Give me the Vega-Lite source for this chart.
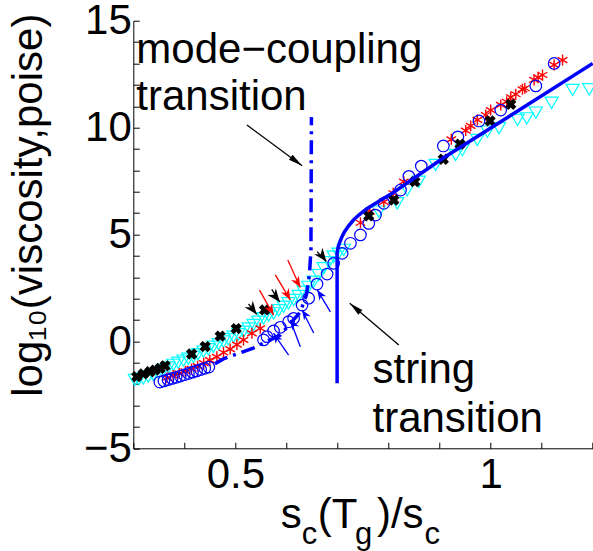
{
  "$schema": "https://vega.github.io/schema/vega-lite/v6.json",
  "width": 459.4,
  "height": 427.6,
  "autosize": "none",
  "padding": {"left": 133.3, "top": 20.7, "right": 0, "bottom": 102.7},
  "config": {"view": {"stroke": null}, "font": "Liberation Sans"},
  "datasets": {
    "cyan": [
      {"x":0.303,"y":-1.80},{"x":0.311,"y":-1.77},{"x":0.3196,"y":-1.73},{"x":0.329,"y":-1.65},{"x":0.3393,"y":-1.57},
      {"x":0.349,"y":-1.46},{"x":0.3589,"y":-1.34},{"x":0.369,"y":-1.22},{"x":0.3785,"y":-1.10},{"x":0.388,"y":-1.0},
      {"x":0.3982,"y":-0.90},{"x":0.408,"y":-0.81},{"x":0.4178,"y":-0.72},{"x":0.427,"y":-0.60},{"x":0.4374,"y":-0.48},
      {"x":0.447,"y":-0.37},{"x":0.457,"y":-0.25},{"x":0.467,"y":-0.13},{"x":0.4767,"y":-0.01},{"x":0.486,"y":0.10},
      {"x":0.4963,"y":0.22},{"x":0.506,"y":0.33},{"x":0.5159,"y":0.45},{"x":0.526,"y":0.60},{"x":0.5356,"y":0.77},
      {"x":0.545,"y":0.92},{"x":0.5552,"y":1.08},{"x":0.565,"y":1.20},{"x":0.5748,"y":1.31},{"x":0.585,"y":1.46},
      {"x":0.5945,"y":1.62},{"x":0.604,"y":1.78},{"x":0.6141,"y":1.94},{"x":0.624,"y":2.12},{"x":0.6337,"y":2.32},
      {"x":0.643,"y":2.55},{"x":0.6534,"y":2.79},{"x":0.663,"y":3.10},{"x":0.673,"y":3.42},{"x":0.683,"y":3.70},
      {"x":0.6926,"y":3.96},{"x":0.702,"y":4.10},{"x":0.7123,"y":4.28},
      {"x":0.781,"y":6.07},{"x":0.8171,"y":6.46},{"x":0.8367,"y":7.08},{"x":0.8595,"y":7.47},{"x":0.8923,"y":8.25},
      {"x":0.9315,"y":8.72},{"x":0.9447,"y":8.95},{"x":0.9741,"y":9.42},{"x":0.9938,"y":9.81},{"x":1.0165,"y":9.97},
      {"x":1.0527,"y":10.36},{"x":1.0709,"y":10.43},{"x":1.0886,"y":10.70},{"x":1.1194,"y":11.16},{"x":1.1606,"y":11.76},
      {"x":1.1932,"y":11.79}
    ],
    "red": [
      {"x":0.366,"y":-1.70},{"x":0.378,"y":-1.60},{"x":0.39,"y":-1.50},{"x":0.402,"y":-1.40},{"x":0.414,"y":-1.29},
      {"x":0.426,"y":-1.16},{"x":0.438,"y":-1.02},{"x":0.45,"y":-0.88},{"x":0.4637,"y":-0.72},{"x":0.4767,"y":-0.52},
      {"x":0.4898,"y":-0.36},{"x":0.503,"y":-0.15},{"x":0.5159,"y":0.07},{"x":0.5324,"y":0.38},{"x":0.5487,"y":0.61},
      {"x":0.745,"y":5.55},{"x":0.7633,"y":6.07},{"x":0.7908,"y":6.53},{"x":0.8092,"y":6.93},{"x":0.83,"y":7.47},
      {"x":0.923,"y":9.45},{"x":0.9512,"y":9.86},{"x":0.961,"y":10.08},{"x":0.9741,"y":10.36},{"x":0.9904,"y":10.59},
      {"x":1.0002,"y":10.82},{"x":1.0199,"y":11.06},{"x":1.0316,"y":11.21},{"x":1.0395,"y":11.42},{"x":1.0493,"y":11.56},
      {"x":1.0624,"y":11.79},{"x":1.067,"y":11.84},{"x":1.0852,"y":12.23},{"x":1.0931,"y":12.35},{"x":1.1017,"y":12.46},
      {"x":1.1245,"y":12.93},{"x":1.141,"y":13.16}
    ],
    "blue": [
      {"x":0.352,"y":-1.90},{"x":0.36,"y":-1.85},{"x":0.368,"y":-1.79},{"x":0.376,"y":-1.73},{"x":0.384,"y":-1.68},
      {"x":0.392,"y":-1.62},{"x":0.40,"y":-1.56},{"x":0.408,"y":-1.50},{"x":0.416,"y":-1.44},{"x":0.424,"y":-1.38},
      {"x":0.432,"y":-1.32},{"x":0.44,"y":-1.26},{"x":0.448,"y":-1.20},
      {"x":0.5552,"y":0.07},{"x":0.5619,"y":0.22},{"x":0.5748,"y":0.49},{"x":0.588,"y":0.66},{"x":0.6043,"y":0.92},
      {"x":0.6141,"y":1.08},{"x":0.6306,"y":1.70},{"x":0.6435,"y":2.02},{"x":0.66,"y":2.68},{"x":0.6797,"y":3.15},
      {"x":0.6926,"y":3.65},{"x":0.7091,"y":4.12},{"x":0.7254,"y":4.59},{"x":0.745,"y":4.98},{"x":0.7613,"y":5.52},
      {"x":0.7745,"y":5.91},{"x":0.7908,"y":6.46},{"x":0.8236,"y":7.08},{"x":0.8398,"y":7.72},{"x":0.8642,"y":8.20},
      {"x":0.9074,"y":9.14},{"x":0.936,"y":9.57},{"x":0.9773,"y":10.31},{"x":1.0199,"y":10.82},{"x":1.0886,"y":11.95},
      {"x":1.1245,"y":13.0}
    ],
    "black": [
      {"x":0.3067,"y":-1.65},{"x":0.3196,"y":-1.52},{"x":0.3328,"y":-1.42},{"x":0.3426,"y":-1.34},{"x":0.3524,"y":-1.26},
      {"x":0.3622,"y":-1.14},{"x":0.4143,"y":-0.59},{"x":0.4408,"y":-0.24},{"x":0.4702,"y":0.25},{"x":0.5016,"y":0.60},
      {"x":0.5572,"y":1.47},{"x":0.7613,"y":5.87},{"x":0.8104,"y":6.61},{"x":0.8516,"y":7.47},{"x":0.9074,"y":8.52},
      {"x":0.94,"y":9.23},{"x":0.9989,"y":10.31},{"x":1.0395,"y":11.09}
    ],
    "mct": [
      {"x":0.46,"y":-1.05},{"x":0.4765,"y":-0.82},{"x":0.535,"y":-0.31},{"x":0.588,"y":0.30},{"x":0.627,"y":1.37},
      {"x":0.639,"y":2.17},{"x":0.645,"y":3.10},{"x":0.648,"y":4.27},{"x":0.649,"y":10.49}
    ],
    "str": [
      {"x":0.6993,"y":-1.96},{"x":0.6993,"y":4.135},{"x":0.7009,"y":4.369},{"x":0.7038,"y":4.602},{"x":0.7077,"y":4.836},
      {"x":0.7136,"y":5.117},{"x":0.7215,"y":5.397},{"x":0.7313,"y":5.678},{"x":0.743,"y":5.935},{"x":0.7568,"y":6.193},
      {"x":0.7725,"y":6.427},{"x":0.7902,"y":6.684},{"x":0.8079,"y":6.941},{"x":0.9074,"y":8.578},{"x":1.2,"y":13.0}
    ],
    "arrows": [
      {"g":"mct","x":0.5226,"y":10.12,"x2":0.6306,"y2":8.22},
      {"g":"str","x":0.8202,"y":-0.17,"x2":0.724,"y2":1.78},
      {"g":"black","x":0.5258,"y":1.75,"x2":0.5419,"y2":1.26},
      {"g":"black","x":0.5713,"y":2.43,"x2":0.587,"y2":1.84},
      {"g":"black","x":0.66,"y":4.20,"x2":0.6783,"y2":3.74},
      {"g":"red","x":0.5473,"y":2.40,"x2":0.5748,"y2":1.23},
      {"g":"red","x":0.5782,"y":3.11,"x2":0.6076,"y2":1.94},
      {"g":"red","x":0.6027,"y":3.81,"x2":0.6272,"y2":2.52},
      {"g":"blue","x":0.6043,"y":-0.64,"x2":0.5748,"y2":0.38},
      {"g":"blue","x":0.6272,"y":-0.25,"x2":0.6076,"y2":1.0},
      {"g":"blue","x":0.6534,"y":0.39,"x2":0.6306,"y2":1.47},
      {"g":"blue","x":0.6861,"y":1.38,"x2":0.6606,"y2":2.40}
    ],
    "notes": [
      {"x":0.306,"y":13.02,"t":"mode−coupling"},
      {"x":0.306,"y":10.82,"t":"transition"},
      {"x":0.7686,"y":-1.96,"t":"string"},
      {"x":0.7686,"y":-4.22,"t":"transition"}
    ],
    "xtitle": [
      {"x":0.5888,"y":-8.74,"t":"s","sub":false},
      {"x":0.6302,"y":-9.48,"t":"c","sub":true},
      {"x":0.6616,"y":-8.74,"t":"(T","sub":false},
      {"x":0.7345,"y":-9.48,"t":"g","sub":true},
      {"x":0.7774,"y":-8.74,"t":")/s","sub":false},
      {"x":0.8707,"y":-9.48,"t":"c","sub":true}
    ]
  },
  "encoding": {
    "x": {"field": "x", "type": "quantitative",
      "scale": {"domain": [0.3, 1.2], "nice": false, "zero": false},
      "axis": {"values": [0.3,0.4,0.5,0.6,0.7,0.8,0.9,1,1.1,1.2],
        "labelExpr": "datum.value == 0.5 ? '0.5' : (datum.value == 1 ? '1' : '')",
        "tickSize": -6, "labelFontSize": 42, "labelPadding": 12, "labelColor": "black",
        "labelOverlap": false, "labelFlush": false, "labelBound": false,
        "domainColor": "black", "tickColor": "black", "domainWidth": 1, "tickWidth": 1,
        "grid": false, "title": null}},
    "y": {"field": "y", "type": "quantitative",
      "scale": {"domain": [-5, 15], "nice": false, "zero": false},
      "axis": {"values": [-5,-4,-3,-2,-1,0,1,2,3,4,5,6,7,8,9,10,11,12,13,14,15],
        "labelExpr": "datum.value % 5 == 0 ? datum.label : ''",
        "tickSize": -6, "labelFontSize": 42, "labelPadding": 8, "labelColor": "black",
        "labelOverlap": false, "labelFlush": false, "labelBound": false,
        "domainColor": "black", "tickColor": "black", "domainWidth": 1, "tickWidth": 1,
        "grid": false,
        "title": "log₁₀(viscosity,poise)", "titleFontSize": 42, "titleFontWeight": "normal",
        "titleColor": "black", "titleX": -92, "titleY": 184, "titleAngle": -90,
        "titleBaseline": "alphabetic", "titleAlign": "center"}}
  },
  "layer": [
    {"data": {"name": "cyan"},
     "mark": {"type": "point", "shape": "triangle-down", "filled": false, "color": "#00ffff", "size": 170, "strokeWidth": 1.2, "opacity": 1}},
    {"data": {"name": "red"},
     "mark": {"type": "point", "shape": "M0,-1L0,1M-0.87,-0.5L0.87,0.5M-0.87,0.5L0.87,-0.5", "filled": false, "color": "#ff0000", "size": 121, "strokeWidth": 1.4, "opacity": 1}},
    {"data": {"name": "blue"},
     "mark": {"type": "point", "shape": "circle", "filled": false, "color": "#0000ff", "size": 133, "strokeWidth": 1.2, "opacity": 1}},
    {"data": {"name": "black"},
     "mark": {"type": "point", "shape": "cross", "angle": 45, "filled": true, "color": "#000000", "size": 130, "opacity": 1}},
    {"data": {"name": "mct"},
     "mark": {"type": "line", "color": "#0000ff", "strokeWidth": 3.5, "strokeDash": [14, 6, 3, 6]},
     "encoding": {"order": {"value": null}}},
    {"data": {"name": "str"},
     "mark": {"type": "line", "color": "#0000ff", "strokeWidth": 3.5},
     "encoding": {"order": {"value": null}}},
    {"data": {"name": "arrows"},
     "mark": {"type": "rule", "strokeWidth": 1.3},
     "encoding": {"x2": {"field": "x2"}, "y2": {"field": "y2"},
       "color": {"field": "g", "type": "nominal", "legend": null,
         "scale": {"domain": ["mct","str","black","red","blue"], "range": ["#000000","#000000","#000000","#ff0000","#0000ff"]}}}},
    {"data": {"name": "arrows"}, "transform": [{"filter": "datum.g == 'mct'"}],
     "mark": {"type": "point", "shape": "M0,0L-0.22,1L0.22,1Z", "filled": true, "color": "#000000", "size": 784, "angle": 126.5, "opacity": 1},
     "encoding": {"x": {"field": "x2", "type": "quantitative"}, "y": {"field": "y2", "type": "quantitative"}}},
    {"data": {"name": "arrows"}, "transform": [{"filter": "datum.g == 'str'"}],
     "mark": {"type": "point", "shape": "M0,0L-0.22,1L0.22,1Z", "filled": true, "color": "#000000", "size": 784, "angle": -49.6, "opacity": 1},
     "encoding": {"x": {"field": "x2", "type": "quantitative"}, "y": {"field": "y2", "type": "quantitative"}}},
    {"data": {"name": "arrows"}, "transform": [{"filter": "datum.g == 'black'"}],
     "mark": {"type": "point", "shape": "M0,0L-0.4,1L0,0.7L0.4,1Z", "filled": true, "color": "#000000", "size": 700, "angle": 142, "opacity": 1},
     "encoding": {"x": {"field": "x2", "type": "quantitative"}, "y": {"field": "y2", "type": "quantitative"}}},
    {"data": {"name": "arrows"}, "transform": [{"filter": "datum.g == 'red'"}],
     "mark": {"type": "point", "shape": "M0,0L-0.4,1L0,0.7L0.4,1Z", "filled": true, "color": "#ff0000", "size": 500, "angle": 151, "opacity": 1},
     "encoding": {"x": {"field": "x2", "type": "quantitative"}, "y": {"field": "y2", "type": "quantitative"}}},
    {"data": {"name": "arrows"}, "transform": [{"filter": "datum.g == 'blue'"}],
     "mark": {"type": "point", "shape": "M0,0L-0.4,1L0,0.7L0.4,1Z", "filled": true, "color": "#0000ff", "size": 400, "angle": -33, "opacity": 1},
     "encoding": {"x": {"field": "x2", "type": "quantitative"}, "y": {"field": "y2", "type": "quantitative"}}},
    {"data": {"name": "notes"},
     "mark": {"type": "text", "align": "left", "baseline": "alphabetic", "fontSize": 42, "color": "#000000"},
     "encoding": {"text": {"field": "t"}}},
    {"data": {"name": "xtitle"}, "transform": [{"filter": "!datum.sub"}],
     "mark": {"type": "text", "align": "left", "baseline": "alphabetic", "fontSize": 42, "color": "#000000"},
     "encoding": {"text": {"field": "t"}}},
    {"data": {"name": "xtitle"}, "transform": [{"filter": "datum.sub"}],
     "mark": {"type": "text", "align": "left", "baseline": "alphabetic", "fontSize": 31, "color": "#000000"},
     "encoding": {"text": {"field": "t"}}}
  ]
}
